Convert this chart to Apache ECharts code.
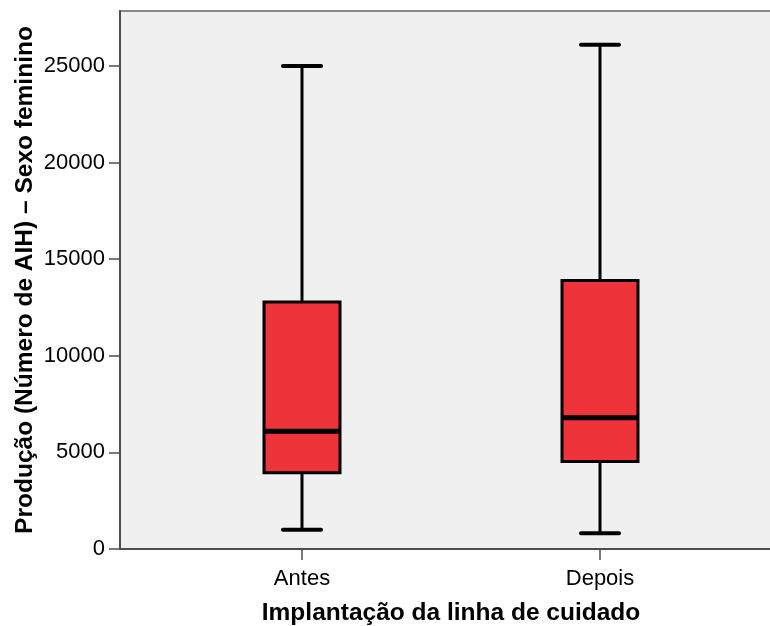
<!DOCTYPE html>
<html>
<head>
<meta charset="utf-8">
<script src="https://cdn.jsdelivr.net/npm/echarts@6/dist/echarts.min.js"></script>
<style>
  html, body { margin: 0; padding: 0; background: #ffffff; }
  #chart { width: 770px; height: 626px; }
</style>
</head>
<body>
<div id="chart"></div>
<script>
// Groups along the x axis
const categories = ['Antes', 'Depois'];
// Five-number summaries per group
const minValues    = [1000, 820];
const q1Values     = [3950, 4530];
const medianValues = [6100, 6800];
const q3Values     = [12790, 13900];
const maxValues    = [25000, 26100];
// Value axis
const yTicks = [0, 5000, 10000, 15000, 20000, 25000];
const yMax = 27850;

const boxData = categories.map((c, i) => [i, minValues[i], q1Values[i], medianValues[i], q3Values[i], maxValues[i]]);

const FONT = '"Liberation Sans", Arial, sans-serif';
const AXIS_COLOR = '#4d4d4d';

function renderBox(params, api) {
  const x = api.value(0);
  const pMin = api.coord([x, api.value(1)]);
  const pQ1 = api.coord([x, api.value(2)]);
  const pMed = api.coord([x, api.value(3)]);
  const pQ3 = api.coord([x, api.value(4)]);
  const pMax = api.coord([x, api.value(5)]);
  const band = api.size([1, 0])[0];
  const boxW = band * 0.255;
  const capW = boxW * 0.5;
  const cx = pMed[0];
  const lineStyle = { stroke: '#000000', lineWidth: 3, lineCap: 'butt' };
  const capStyle = { stroke: '#000000', lineWidth: 4, lineCap: 'round' };
  return {
    type: 'group',
    children: [
      { type: 'line', shape: { x1: cx, y1: pMax[1], x2: cx, y2: pQ3[1] }, style: lineStyle },
      { type: 'line', shape: { x1: cx, y1: pQ1[1], x2: cx, y2: pMin[1] }, style: lineStyle },
      { type: 'line', shape: { x1: cx - capW / 2, y1: pMax[1], x2: cx + capW / 2, y2: pMax[1] }, style: capStyle },
      { type: 'line', shape: { x1: cx - capW / 2, y1: pMin[1], x2: cx + capW / 2, y2: pMin[1] }, style: capStyle },
      { type: 'rect', shape: { x: cx - boxW / 2, y: pQ3[1], width: boxW, height: pQ1[1] - pQ3[1] },
        style: { fill: '#ef333a', stroke: '#000000', lineWidth: 3 } },
      { type: 'line', shape: { x1: cx - boxW / 2, y1: pMed[1], x2: cx + boxW / 2, y2: pMed[1] }, style: { stroke: '#000', lineWidth: 5 } }
    ]
  };
}

const chart = echarts.init(document.getElementById('chart'), null, { renderer: 'canvas' });
chart.setOption({
  animation: false,
  backgroundColor: '#ffffff',
  grid: [
    { left: 120, right: -2, top: 11, bottom: 77, show: true, backgroundColor: '#f0f0f0', borderColor: '#8a8a8a', borderWidth: 2,
      containLabel: false, outerBoundsMode: 'none' },
    { left: 153, width: 596, top: 11, bottom: 77, containLabel: false, outerBoundsMode: 'none' }
  ],
  xAxis: [
    { type: 'value', gridIndex: 0, min: 0, max: 1,
      axisLine: { show: true, lineStyle: { color: AXIS_COLOR, width: 2 } },
      axisTick: { show: false }, axisLabel: { show: false }, splitLine: { show: false } },
    { type: 'category', gridIndex: 1, data: categories,
      axisLine: { show: false },
      axisTick: { show: true, alignWithLabel: true, length: 11, lineStyle: { color: AXIS_COLOR, width: 1.5 } },
      axisLabel: { margin: 19, fontFamily: FONT, fontSize: 22, color: '#000' },
      name: 'Implantação da linha de cuidado', nameLocation: 'middle', nameGap: 52, nameMoveOverlap: false,
      nameTextStyle: { fontFamily: FONT, fontSize: 24.5, fontWeight: 'bold', color: '#000' },
      splitLine: { show: false } }
  ],
  yAxis: [
    { type: 'value', gridIndex: 0, min: yTicks[0], max: yMax, interval: yTicks[1] - yTicks[0],
      axisLine: { show: true, lineStyle: { color: AXIS_COLOR, width: 2 } },
      axisTick: { show: true, length: 11, lineStyle: { color: AXIS_COLOR, width: 1.5 } },
      axisLabel: { margin: 15, fontFamily: FONT, fontSize: 22, color: '#000', showMaxLabel: false,
        formatter: (v) => String(v) },
      splitLine: { show: false },
      name: 'Produção (Número de AIH) – Sexo feminino', nameLocation: 'middle', nameGap: 82, nameRotate: 90,
      nameMoveOverlap: false,
      nameTextStyle: { fontFamily: FONT, fontSize: 24.5, fontWeight: 'bold', color: '#000' } },
    { type: 'value', gridIndex: 1, min: yTicks[0], max: yMax, show: false }
  ],
  series: [
    { type: 'custom', xAxisIndex: 1, yAxisIndex: 1, data: boxData, renderItem: renderBox,
      encode: { x: 0, y: [1, 2, 3, 4, 5] }, clip: false }
  ]
});
</script>
</body>
</html>
